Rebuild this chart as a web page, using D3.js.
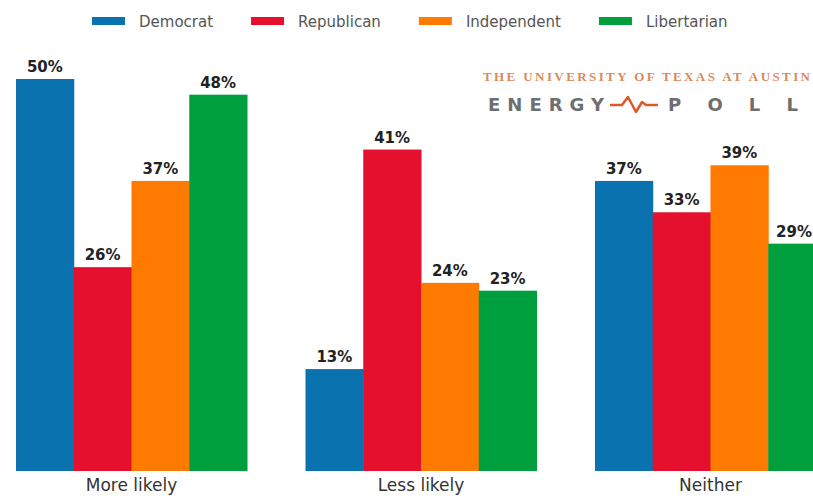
<!DOCTYPE html>
<html>
<head>
<meta charset="utf-8">
<script src="https://cdn.jsdelivr.net/npm/d3@7"></script>
<style>
  html, body { margin: 0; padding: 0; background: #fff; }
  svg { display: block; }
</style>
</head>
<body>
<div id="chart"></div>
<script>
var categories = ['More likely', 'Less likely', 'Neither'];
var parties = ['Democrat', 'Republican', 'Independent', 'Libertarian'];
var democrat = [50, 13, 37];
var republican = [26, 41, 33];
var independent = [37, 24, 39];
var libertarian = [48, 23, 29];
var yTicks = [0, 50];

var colors = ['#0a72ae', '#e5102e', '#ff7a00', '#009f3d'];
var series = [democrat, republican, independent, libertarian];

var width = 813, height = 496;

//--- CREATE SVG
var svg = d3.select('#chart')
  .append('svg')
  .attr('width', width)
  .attr('height', height);

//--- SCALES
var scaleX = d3.scaleBand()
  .domain(categories)
  .range([16, 826])
  .paddingInner(0.202)
  .paddingOuter(0);

var scaleInner = d3.scaleBand()
  .domain(parties)
  .range([0, scaleX.bandwidth()]);

var scaleY = d3.scaleLinear()
  .domain(d3.extent(yTicks))
  .range([471, 79]);

var color = d3.scaleOrdinal().domain(parties).range(colors);

//--- BARS
var rows = [];
categories.forEach(function(c, i) {
  parties.forEach(function(p, j) {
    rows.push({ category: c, party: p, value: series[j][i] });
  });
});

var bars = svg.append('g').attr('class', 'bars');

bars.selectAll('rect')
  .data(rows)
  .enter().append('rect')
  .attr('x', function(d) { return scaleX(d.category) + scaleInner(d.party); })
  .attr('y', function(d) { return scaleY(d.value); })
  .attr('width', scaleInner.bandwidth() + 0.5)
  .attr('height', function(d) { return scaleY(0) - scaleY(d.value); })
  .attr('fill', function(d) { return color(d.party); });

bars.selectAll('text')
  .data(rows)
  .enter().append('text')
  .attr('x', function(d) {
    // keep the last label inside the picture
    var cx = scaleX(d.category) + scaleInner(d.party) + scaleInner.bandwidth() / 2;
    return Math.min(cx, width - 19);
  })
  .attr('y', function(d) { return scaleY(d.value) - 7; })
  .attr('text-anchor', 'middle')
  .style('font-family', 'DejaVu Sans')
  .style('font-weight', 'bold')
  .style('font-size', '15px')
  .style('fill', '#222')
  .text(function(d) { return d.value + '%'; });

//--- X AXIS LABELS
var axisX = svg.append('g')
  .attr('transform', 'translate(0,' + scaleY(0) + ')')
  .call(d3.axisBottom(scaleX).tickSize(0).tickPadding(8));

axisX.select('.domain').remove();
axisX.selectAll('text')
  .attr('dy', '0.71em')
  .style('font-family', 'DejaVu Sans')
  .style('font-size', '17px')
  .style('fill', '#333');

//--- LEGEND
var legend = svg.append('g').attr('class', 'legend');
var lx = 92;
parties.forEach(function(p) {
  var item = legend.append('g').attr('transform', 'translate(' + lx + ',0)');
  item.append('rect')
    .attr('x', 0).attr('y', 17)
    .attr('width', 33).attr('height', 8)
    .attr('fill', color(p));
  var t = item.append('text')
    .attr('x', 47).attr('y', 27)
    .style('font-family', 'DejaVu Sans')
    .style('font-size', '15px')
    .style('fill', '#555')
    .text(p);
  lx += 47 + t.node().getComputedTextLength() + 38;
});

//--- LOGO
var logo = svg.append('g').attr('class', 'logo');
logo.append('text')
  .attr('x', 483).attr('y', 81)
  .attr('textLength', 327)
  .attr('lengthAdjust', 'spacing')
  .style('font-family', 'Liberation Serif')
  .style('font-weight', 'bold')
  .style('font-size', '13px')
  .style('fill', '#dc8a58')
  .text('THE UNIVERSITY OF TEXAS AT AUSTIN');

logo.append('text')
  .attr('x', 488).attr('y', 111)
  .attr('textLength', 116)
  .attr('lengthAdjust', 'spacing')
  .style('font-family', 'DejaVu Sans')
  .style('font-weight', 'bold')
  .style('font-size', '18px')
  .style('fill', '#6e6e6e')
  .text('ENERGY');

logo.append('text')
  .attr('x', 668).attr('y', 111)
  .attr('textLength', 130)
  .attr('lengthAdjust', 'spacing')
  .style('font-family', 'DejaVu Sans')
  .style('font-weight', 'bold')
  .style('font-size', '18px')
  .style('fill', '#6e6e6e')
  .text('POLL');

logo.append('path')
  .attr('d', 'M610,105 L622,105 L628,97 L636,112 L642,102 L646,105 L658,105')
  .attr('fill', 'none')
  .attr('stroke', '#e0572a')
  .attr('stroke-width', 2.5)
  .attr('stroke-linejoin', 'round');
</script>
</body>
</html>
